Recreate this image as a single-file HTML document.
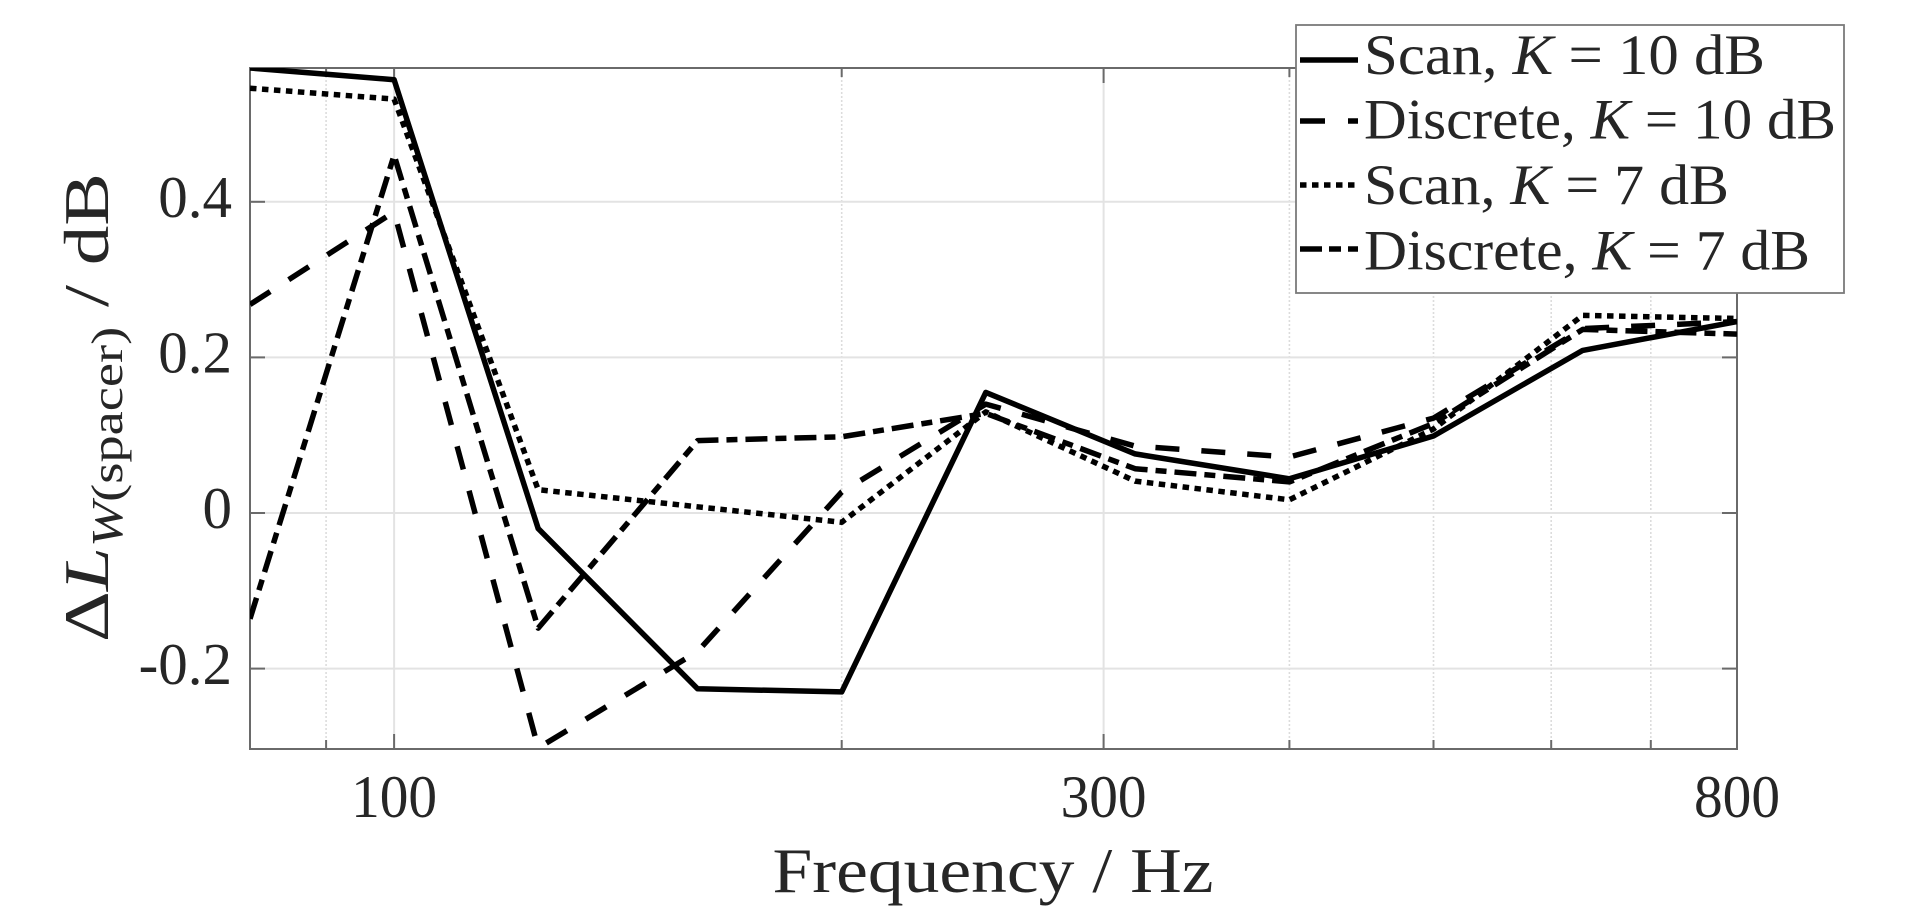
<!DOCTYPE html>
<html>
<head>
<meta charset="utf-8">
<style>
  html, body { margin:0; padding:0; background:#ffffff; }
  body { width:1920px; height:918px; overflow:hidden; }
  svg { display:block; }
  text { font-family: "Liberation Serif", "DejaVu Serif", serif; fill:#262626; }
</style>
</head>
<body>
<svg width="1920" height="918" viewBox="0 0 1920 918" xmlns="http://www.w3.org/2000/svg">
  <defs>
    <clipPath id="ax">
      <rect x="250" y="68" width="1487" height="681"/>
    </clipPath>
  </defs>
  <rect x="0" y="0" width="1920" height="918" fill="#ffffff"/>

  <!-- minor vertical grid (dotted) -->
  <g stroke="#dcdcdc" stroke-width="1.6" stroke-dasharray="2 2" fill="none">
    <line x1="326.1" y1="68" x2="326.1" y2="749"/>
    <line x1="841.7" y1="68" x2="841.7" y2="749"/>
    <line x1="1289.4" y1="68" x2="1289.4" y2="749"/>
    <line x1="1433.5" y1="68" x2="1433.5" y2="749"/>
    <line x1="1551.2" y1="68" x2="1551.2" y2="749"/>
    <line x1="1650.8" y1="68" x2="1650.8" y2="749"/>
  </g>
  <!-- major grid -->
  <g stroke="#e3e3e3" stroke-width="2" fill="none">
    <line x1="394.1" y1="68" x2="394.1" y2="749"/>
    <line x1="1103.6" y1="68" x2="1103.6" y2="749"/>
    <line x1="250" y1="201.8" x2="1737" y2="201.8"/>
    <line x1="250" y1="357.4" x2="1737" y2="357.4"/>
    <line x1="250" y1="513" x2="1737" y2="513"/>
    <line x1="250" y1="668.6" x2="1737" y2="668.6"/>
  </g>

  <!-- axes box -->
  <rect x="250" y="68" width="1487" height="681" fill="none" stroke="#6a6a6a" stroke-width="2"/>

  <!-- ticks -->
  <g stroke="#6a6a6a" stroke-width="2">
    <!-- y major left/right -->
    <line x1="250" y1="201.8" x2="265" y2="201.8"/>
    <line x1="250" y1="357.4" x2="265" y2="357.4"/>
    <line x1="250" y1="513" x2="265" y2="513"/>
    <line x1="250" y1="668.6" x2="265" y2="668.6"/>
    <line x1="1722" y1="201.8" x2="1737" y2="201.8"/>
    <line x1="1722" y1="357.4" x2="1737" y2="357.4"/>
    <line x1="1722" y1="513" x2="1737" y2="513"/>
    <line x1="1722" y1="668.6" x2="1737" y2="668.6"/>
    <!-- x major bottom/top -->
    <line x1="394.1" y1="749" x2="394.1" y2="734"/>
    <line x1="1103.6" y1="749" x2="1103.6" y2="734"/>
    <line x1="394.1" y1="68" x2="394.1" y2="83"/>
    <line x1="1103.6" y1="68" x2="1103.6" y2="83"/>
    <!-- x minor bottom/top -->
    <line x1="326.1" y1="749" x2="326.1" y2="740"/>
    <line x1="841.7" y1="749" x2="841.7" y2="740"/>
    <line x1="1289.4" y1="749" x2="1289.4" y2="740"/>
    <line x1="1433.5" y1="749" x2="1433.5" y2="740"/>
    <line x1="1551.2" y1="749" x2="1551.2" y2="740"/>
    <line x1="1650.8" y1="749" x2="1650.8" y2="740"/>
    <line x1="326.1" y1="68" x2="326.1" y2="77"/>
    <line x1="841.7" y1="68" x2="841.7" y2="77"/>
    <line x1="1289.4" y1="68" x2="1289.4" y2="77"/>
    <line x1="1433.5" y1="68" x2="1433.5" y2="77"/>
    <line x1="1551.2" y1="68" x2="1551.2" y2="77"/>
    <line x1="1650.8" y1="68" x2="1650.8" y2="77"/>
  </g>

  <!-- data series -->
  <g clip-path="url(#ax)" fill="none" stroke="#000000" stroke-width="5.5" stroke-linejoin="round">
    <!-- Scan K=10 solid -->
    <polyline points="250,68 394.1,79.7 538.2,528.6 697.6,688.8 841.7,691.9 985.8,392.4 1135.1,453.9 1289.4,478.8 1433.5,436 1582.7,350.4 1737,321.6"/>
    <!-- Discrete K=10 dashed -->
    <polyline stroke-dasharray="24 22" points="250,304.5 394.1,211.9 538.2,748 697.6,651.5 841.7,492 985.8,404.1 1135.1,446.1 1289.4,457 1433.5,418.1 1582.7,328.6 1737,321.6"/>
    <!-- Scan K=7 dotted -->
    <polyline stroke-dasharray="6.5 5.5" points="250,88.2 394.1,99.1 538.2,489.7 697.6,506.8 841.7,522.3 985.8,411.9 1135.1,481.1 1289.4,499.8 1433.5,429 1582.7,315.4 1737,318.5"/>
    <!-- Discrete K=7 dash-dot -->
    <polyline stroke-dasharray="22 8 11 8" points="250,618.8 394.1,155.1 538.2,628.1 697.6,440.6 841.7,436.8 985.8,413.4 1135.1,468.7 1289.4,481.9 1433.5,423.5 1582.7,329.4 1737,334.1"/>
  </g>

  <!-- y tick labels -->
  <g font-size="59" text-anchor="end">
    <text x="232" y="217">0.4</text>
    <text x="232" y="372.5">0.2</text>
    <text x="232" y="528">0</text>
    <text x="232" y="684">-0.2</text>
  </g>
  <!-- x tick labels -->
  <g font-size="60" text-anchor="middle">
    <text x="394.1" y="817" textLength="86" lengthAdjust="spacingAndGlyphs">100</text>
    <text x="1103.6" y="817" textLength="86" lengthAdjust="spacingAndGlyphs">300</text>
    <text x="1737" y="817" textLength="86" lengthAdjust="spacingAndGlyphs">800</text>
  </g>

  <!-- x label -->
  <text x="993" y="892" font-size="64" text-anchor="middle" textLength="441" lengthAdjust="spacingAndGlyphs">Frequency / Hz</text>

  <!-- y label -->
  <text transform="translate(108,407.5) rotate(-90)" font-size="64" text-anchor="middle" textLength="469" lengthAdjust="spacingAndGlyphs">Δ<tspan font-style="italic">L</tspan><tspan font-size="44" dy="14" font-style="italic">W</tspan><tspan font-size="44">(spacer)</tspan><tspan dy="-14"> / dB</tspan></text>

  <!-- legend -->
  <rect x="1296" y="25" width="548" height="268" fill="#ffffff" stroke="#7a7a7a" stroke-width="1.8"/>
  <g fill="none" stroke="#000000" stroke-width="5.5">
    <line x1="1300" y1="60" x2="1358" y2="60"/>
    <line x1="1300" y1="121" x2="1358" y2="121" stroke-dasharray="25 23"/>
    <line x1="1300" y1="185" x2="1358" y2="185" stroke-dasharray="6.5 5.5"/>
    <line x1="1300" y1="249" x2="1358" y2="249" stroke-dasharray="22 7 12 7"/>
  </g>
  <g font-size="57" style="fill:#111">
    <text x="1364" y="74" textLength="401" lengthAdjust="spacingAndGlyphs">Scan, <tspan font-style="italic">K</tspan> = 10 dB</text>
    <text x="1364" y="138.5" textLength="472" lengthAdjust="spacingAndGlyphs">Discrete, <tspan font-style="italic">K</tspan> = 10 dB</text>
    <text x="1364" y="204" textLength="365" lengthAdjust="spacingAndGlyphs">Scan, <tspan font-style="italic">K</tspan> = 7 dB</text>
    <text x="1364" y="269.5" textLength="446" lengthAdjust="spacingAndGlyphs">Discrete, <tspan font-style="italic">K</tspan> = 7 dB</text>
  </g>
</svg>
</body>
</html>
